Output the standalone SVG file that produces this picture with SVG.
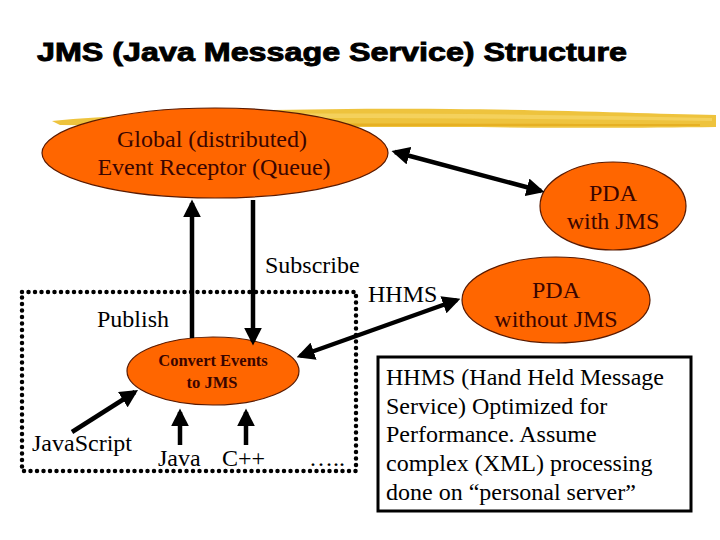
<svg xmlns="http://www.w3.org/2000/svg" width="720" height="540" viewBox="0 0 720 540">
<style>
.node{fill:#FF6600;stroke:#5a1a00;stroke-width:1.2}
.nt{fill:#3a0500;text-anchor:middle;font-size:24px}
.t{fill:#000;font-size:24px}
.ar{stroke:#000;stroke-width:4.5;fill:none}
</style>
<defs>
<marker id="ah" viewBox="0 0 10 10" refX="8" refY="5" markerWidth="4" markerHeight="4" orient="auto-start-reverse" markerUnits="strokeWidth">
<path d="M0,0 L10,5 L0,10 z" fill="#000"/>
</marker>
</defs>
<rect width="720" height="540" fill="#fff"/>
<text x="37" y="61" font-family="Liberation Sans, Arial, sans-serif" font-weight="bold" font-size="26" stroke="#000" stroke-width="0.9" textLength="590" lengthAdjust="spacingAndGlyphs">JMS (Java Message Service) Structure</text>
<g id="brush">
<path d="M52,121 C150,112 300,108 450,109 C560,110 650,114 716,115 L716,127 C640,128 560,128 450,127 C320,127 180,127 60,125 Z" fill="#EDBE2C" opacity="0.92"/>
<path d="M130,116 C300,112 500,113 712,118 L712,121 C500,118 300,117 130,119 Z" fill="#F5D464" opacity="0.8"/>
<path d="M200,124 C350,123 500,124 700,124 L700,126 C500,126 350,126 200,126 Z" fill="#E2A818" opacity="0.7"/>
</g>
<g font-family="Liberation Serif, Times New Roman, Times, serif">
<g id="queue">
<ellipse class="node" cx="215" cy="153" rx="173" ry="45"/>
<text class="nt" x="212" y="147">Global (distributed)</text>
<text class="nt" x="214" y="175">Event Receptor (Queue)</text>
</g>
<g id="pda-jms">
<ellipse class="node" cx="613" cy="206" rx="73" ry="44"/>
<text class="nt" x="613" y="201">PDA</text>
<text class="nt" x="613" y="229">with JMS</text>
</g>
<g id="pda-nojms">
<ellipse class="node" cx="556" cy="300" rx="94" ry="43"/>
<text class="nt" x="556" y="298">PDA</text>
<text class="nt" x="556" y="327">without JMS</text>
</g>
<g id="hhms-region">
<rect x="22" y="292" width="334" height="179" fill="none" stroke="#000" stroke-width="4.5" stroke-dasharray="0 6.5" stroke-linecap="round"/>
</g>
<g id="convert">
<ellipse class="node" cx="213" cy="371" rx="86" ry="34"/>
<text class="nt" x="213" y="366" style="font-size:16.5px" font-weight="bold">Convert Events</text>
<text class="nt" x="212" y="388" style="font-size:16.5px" font-weight="bold">to JMS</text>
</g>
<g id="labels">
<text class="t" x="265" y="273">Subscribe</text>
<text class="t" x="97" y="327">Publish</text>
<text class="t" x="368" y="302">HHMS</text>
<text class="t" x="32" y="451">JavaScript</text>
<text class="t" x="158" y="466">Java</text>
<text class="t" x="222" y="466">C++</text>
<text class="t" x="309" y="466">…..</text>
</g>
<g id="connectors">
<line class="ar" x1="395" y1="152" x2="541" y2="191" marker-start="url(#ah)" marker-end="url(#ah)"/>
<line class="ar" x1="192" y1="338" x2="192" y2="203" marker-end="url(#ah)"/>
<line class="ar" x1="253" y1="200" x2="253" y2="342" marker-end="url(#ah)"/>
<line class="ar" x1="300" y1="356" x2="457" y2="300" marker-start="url(#ah)" marker-end="url(#ah)"/>
<line class="ar" x1="72" y1="432" x2="135" y2="392" marker-end="url(#ah)"/>
<line class="ar" x1="180" y1="445" x2="180" y2="412" marker-end="url(#ah)"/>
<line class="ar" x1="246" y1="445" x2="246" y2="412" marker-end="url(#ah)"/>
</g>
<g id="note">
<rect x="378" y="357" width="313" height="154" fill="#fff" stroke="#000" stroke-width="3"/>
<text class="t" x="386" y="385">HHMS (Hand Held Message</text>
<text class="t" x="386" y="414">Service) Optimized for</text>
<text class="t" x="386" y="442">Performance. Assume</text>
<text class="t" x="386" y="471">complex (XML) processing</text>
<text class="t" x="386" y="500">done on “personal server”</text>
</g>
</g>
</svg>
